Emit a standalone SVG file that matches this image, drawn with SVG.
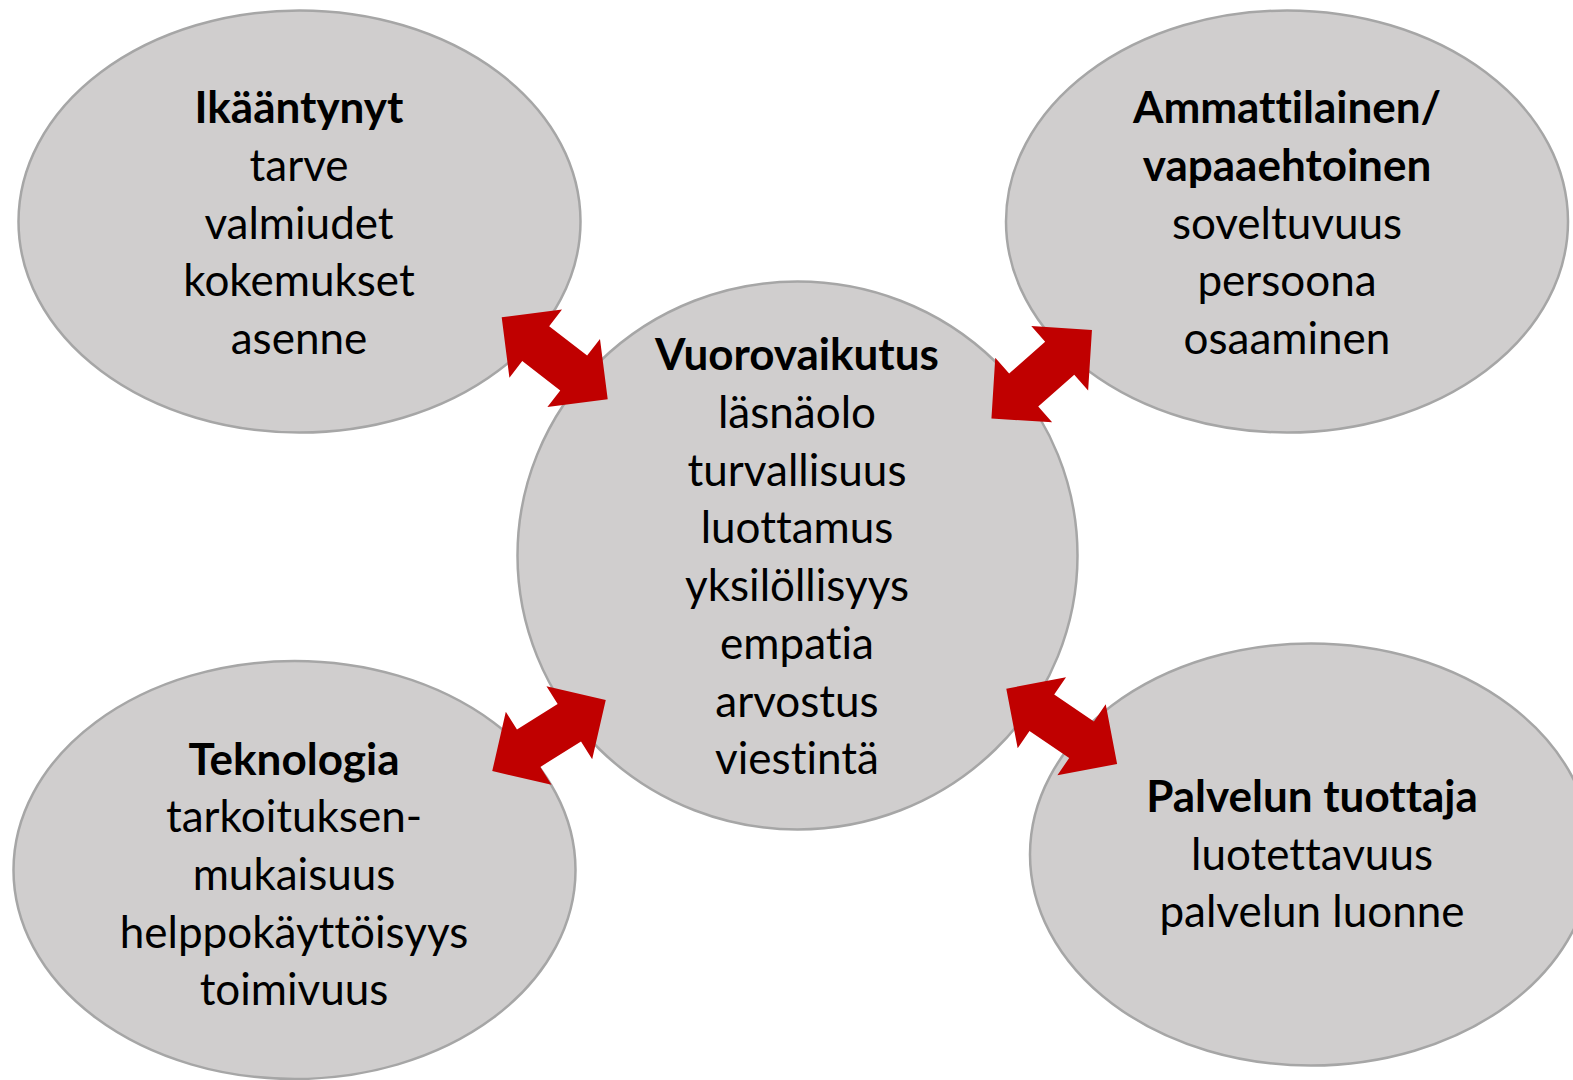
<svg xmlns="http://www.w3.org/2000/svg" width="1573" height="1080" viewBox="0 0 1573 1080">
<style>
.node{fill:#D0CECE;stroke:#A6A6A6;stroke-width:2.5}
.t{font-family:Lato,"Open Sans","Liberation Sans",sans-serif;font-size:44px;fill:#000;text-anchor:middle;font-variant-ligatures:none;font-feature-settings:"liga" 0,"clig" 0,"dlig" 0}
.b{font-weight:bold}
.arr{fill:#C00000}
</style>
<defs>
<polygon id="dbl" points="-67,0 -24,-43 -24,-22 24,-22 24,-43 67,0 24,43 24,22 -24,22 -24,43"/>
</defs>
<rect width="1573" height="1080" fill="#fff"/>
<g id="n-ikaantyneet">
<ellipse class="node" cx="299.5" cy="221.5" rx="281" ry="211"/>
<text class="t"><tspan class="b" x="299" y="123">Ikääntynyt</tspan><tspan x="299" y="181">tarve</tspan><tspan x="299" y="239">valmiudet</tspan><tspan x="299" y="296">kokemukset</tspan><tspan x="299" y="354">asenne</tspan></text>
</g>
<g id="n-ammattilainen">
<ellipse class="node" cx="1287" cy="221.5" rx="281" ry="211"/>
<text class="t"><tspan class="b" x="1287" y="123">Ammattilainen/</tspan><tspan class="b" x="1287" y="181">vapaaehtoinen</tspan><tspan x="1287" y="239">soveltuvuus</tspan><tspan x="1287" y="296">persoona</tspan><tspan x="1287" y="354">osaaminen</tspan></text>
</g>
<g id="n-teknologia">
<ellipse class="node" cx="294.5" cy="870" rx="281" ry="209"/>
<text class="t"><tspan class="b" x="294" y="775">Teknologia</tspan><tspan x="294" y="832">tarkoituksen-</tspan><tspan x="294" y="890">mukaisuus</tspan><tspan x="294" y="948">helppokäyttöisyys</tspan><tspan x="294" y="1005">toimivuus</tspan></text>
</g>
<g id="n-palvelu">
<ellipse class="node" cx="1311" cy="854.5" rx="281" ry="211"/>
<text class="t"><tspan class="b" x="1312" y="812">Palvelun tuottaja</tspan><tspan x="1312" y="870">luotettavuus</tspan><tspan x="1312" y="927">palvelun luonne</tspan></text>
</g>
<g id="n-vuorovaikutus">
<ellipse class="node" cx="797.5" cy="555.5" rx="280" ry="274"/>
<text class="t"><tspan class="b" x="797" y="370">Vuorovaikutus</tspan><tspan x="797" y="428">läsnäolo</tspan><tspan x="797" y="486">turvallisuus</tspan><tspan x="797" y="543">luottamus</tspan><tspan x="797" y="601">yksilöllisyys</tspan><tspan x="797" y="659">empatia</tspan><tspan x="797" y="717">arvostus</tspan><tspan x="797" y="774">viestintä</tspan></text>
</g>
<g id="connectors" class="arr">
<use href="#dbl" transform="translate(554.7,358.3) rotate(37.7)"/>
<use href="#dbl" transform="translate(1041.7,374.2) rotate(-41.4)"/>
<use href="#dbl" transform="translate(549,735.5) rotate(-32.1)"/>
<use href="#dbl" transform="translate(1061.7,726.3) rotate(34.2)"/>
</g>
</svg>
